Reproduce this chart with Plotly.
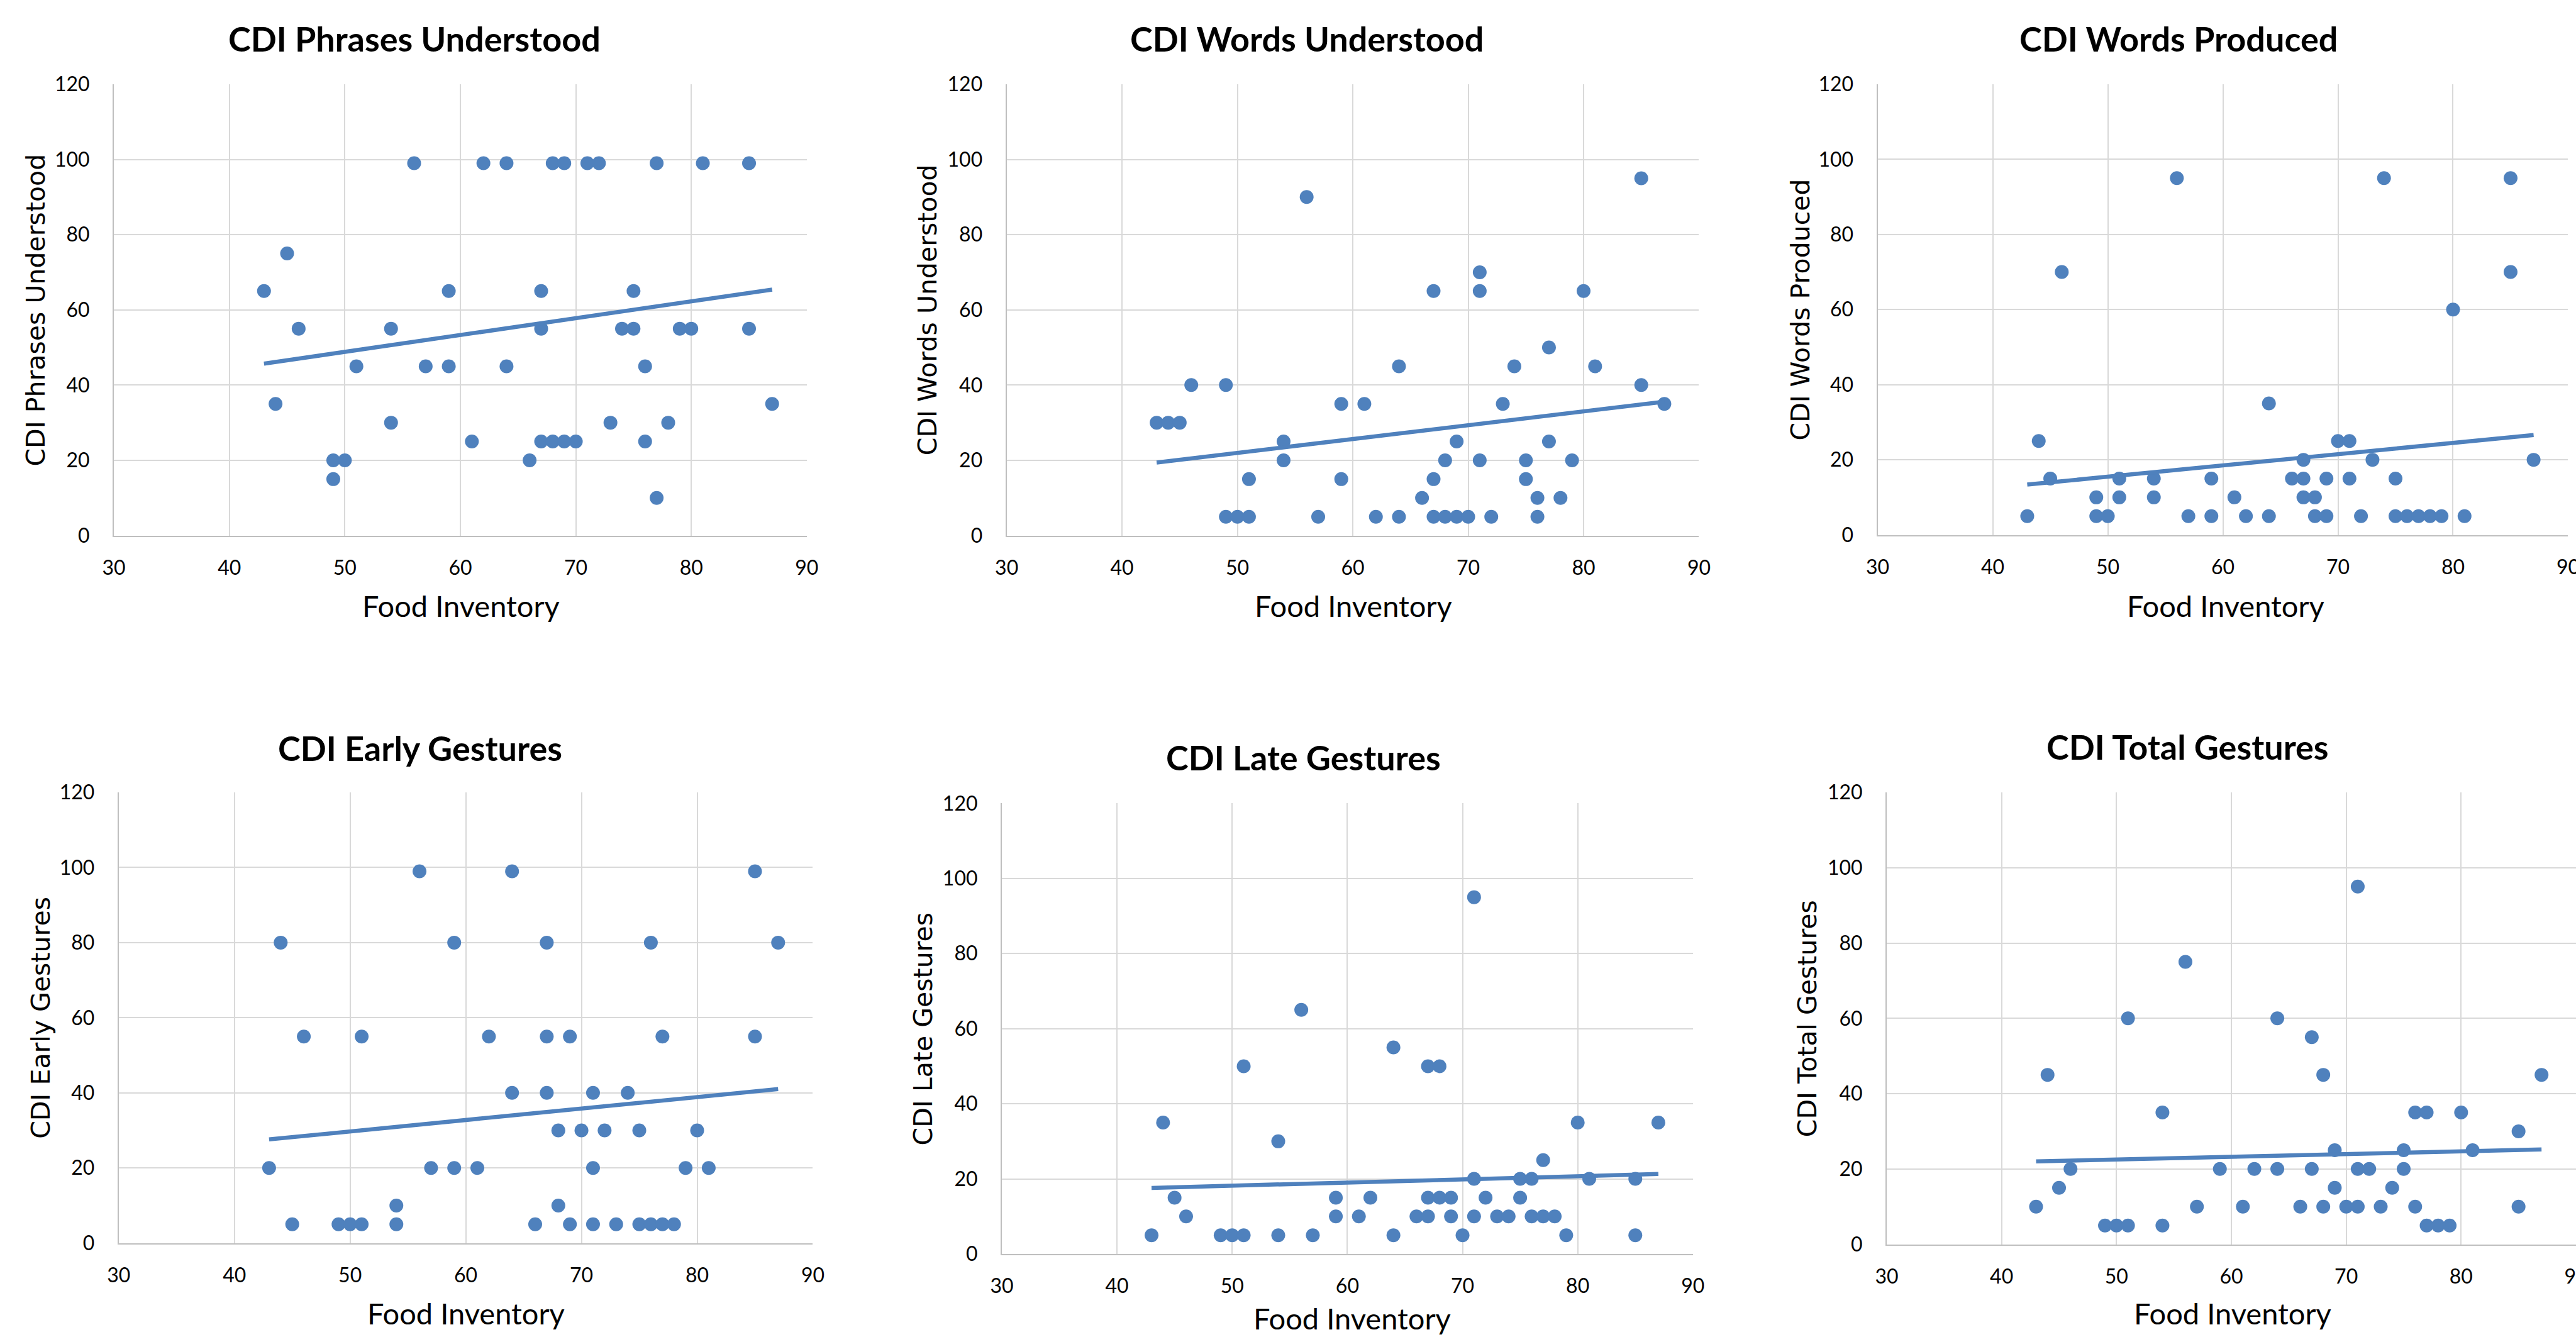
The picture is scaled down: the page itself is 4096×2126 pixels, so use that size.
import plotly.graph_objects as go

# ---------------- data ----------------
food_axis_label = "Food Inventory"
panel_titles = ["CDI Phrases Understood", "CDI Words Understood", "CDI Words Produced",
                "CDI Early Gestures", "CDI Late Gestures", "CDI Total Gestures"]
x_ticks = [30, 40, 50, 60, 70, 80, 90]
y_ticks = [0, 20, 40, 60, 80, 100, 120]

phrases_x = [56, 62, 64, 68, 69, 71, 72, 77, 81, 85, 45, 43, 59, 67, 75, 46, 54, 67, 74, 75, 79, 80, 85,
             51, 57, 59, 64, 76, 44, 87, 54, 73, 78, 61, 67, 68, 69, 70, 76, 49, 50, 66, 49, 77]
phrases_y = [99, 99, 99, 99, 99, 99, 99, 99, 99, 99, 75, 65, 65, 65, 65, 55, 55, 55, 55, 55, 55, 55, 55,
             45, 45, 45, 45, 45, 35, 35, 30, 30, 30, 25, 25, 25, 25, 25, 25, 20, 20, 20, 15, 10]

words_und_x = [56, 85, 71, 67, 71, 80, 77, 64, 74, 81, 46, 49, 85, 59, 61, 73, 87, 43, 44, 45, 54, 69, 77,
               54, 68, 71, 75, 79, 51, 59, 67, 75, 66, 76, 78,
               49, 50, 51, 57, 62, 64, 67, 68, 69, 70, 72, 76]
words_und_y = [90, 95, 70, 65, 65, 65, 50, 45, 45, 45, 40, 40, 40, 35, 35, 35, 35, 30, 30, 30, 25, 25, 25,
               20, 20, 20, 20, 20, 15, 15, 15, 15, 10, 10, 10,
               5, 5, 5, 5, 5, 5, 5, 5, 5, 5, 5, 5]

words_prod_x = [56, 74, 85, 46, 85, 80, 64, 44, 70, 71, 67, 73, 87,
                45, 51, 54, 59, 66, 67, 69, 71, 75, 49, 51, 54, 61, 67, 68,
                43, 49, 50, 57, 59, 62, 64, 68, 69, 72, 75, 76, 77, 78, 79, 81]
words_prod_y = [95, 95, 95, 70, 70, 60, 35, 25, 25, 25, 20, 20, 20,
                15, 15, 15, 15, 15, 15, 15, 15, 15, 10, 10, 10, 10, 10, 10,
                5, 5, 5, 5, 5, 5, 5, 5, 5, 5, 5, 5, 5, 5, 5, 5]

early_x = [56, 64, 85, 44, 59, 67, 76, 87, 46, 51, 62, 67, 69, 77, 85, 64, 67, 71, 74,
           68, 70, 72, 75, 80, 43, 57, 59, 61, 71, 79, 81, 54, 68,
           45, 49, 50, 51, 54, 66, 69, 71, 73, 75, 76, 77, 78]
early_y = [99, 99, 99, 80, 80, 80, 80, 80, 55, 55, 55, 55, 55, 55, 55, 40, 40, 40, 40,
           30, 30, 30, 30, 30, 20, 20, 20, 20, 20, 20, 20, 10, 10,
           5, 5, 5, 5, 5, 5, 5, 5, 5, 5, 5, 5, 5]

late_x = [71, 56, 64, 51, 67, 68, 44, 80, 87, 54, 77, 71, 75, 76, 81, 85,
          45, 59, 62, 67, 68, 69, 72, 75, 46, 59, 61, 66, 67, 69, 71, 73, 74, 76, 77, 78,
          43, 49, 50, 51, 54, 57, 64, 70, 79, 85]
late_y = [95, 65, 55, 50, 50, 50, 35, 35, 35, 30, 25, 20, 20, 20, 20, 20,
          15, 15, 15, 15, 15, 15, 15, 15, 10, 10, 10, 10, 10, 10, 10, 10, 10, 10, 10, 10,
          5, 5, 5, 5, 5, 5, 5, 5, 5, 5]

total_x = [71, 56, 51, 64, 67, 44, 68, 87, 54, 76, 77, 80, 85, 69, 75, 81,
           46, 59, 62, 64, 67, 71, 72, 75, 45, 69, 74,
           43, 57, 61, 66, 68, 70, 71, 73, 76, 85, 49, 50, 51, 54, 77, 78, 79]
total_y = [95, 75, 60, 60, 55, 45, 45, 45, 35, 35, 35, 35, 30, 25, 25, 25,
           20, 20, 20, 20, 20, 20, 20, 20, 15, 15, 15,
           10, 10, 10, 10, 10, 10, 10, 10, 10, 10, 5, 5, 5, 5, 5, 5, 5]

# linear trendline end points
trend_x = [43, 87]
phrases_trend = [45.7, 65.4]
words_und_trend = [19.4, 35.6]
words_prod_trend = [13.4, 26.6]
early_trend = [27.6, 41.0]
late_trend = [17.6, 21.3]
total_trend = [22.0, 25.2]

series = [
    (phrases_x, phrases_y, phrases_trend),
    (words_und_x, words_und_y, words_und_trend),
    (words_prod_x, words_prod_y, words_prod_trend),
    (early_x, early_y, early_trend),
    (late_x, late_y, late_trend),
    (total_x, total_y, total_trend),
]

# ---------------- layout (reference pixel geometry) ----------------
RW, RH = 4253.0, 2207.0
BLUE = "#4F81BD"

boxes = [  # x0, x1, ytop, ybottom in reference pixels
    (188, 1332, 139, 884),
    (1662, 2805, 139, 884),
    (3100, 4240, 139, 883),
    (196, 1342, 1308, 2052),
    (1654, 2795, 1326, 2070),
    (3115, 4253, 1308, 2054),
]
title_pos = [(684, 64), (2158, 64), (3597, 64), (694, 1235), (2152, 1250), (3612, 1233)]
xtitle_pos = [(761, 1000), (2235, 1000), (3675, 1000), (769, 2168), (2232, 2176), (3686, 2168)]
ytitle_x = [59, 1531, 2973, 68, 1524, 2984]

fig = go.Figure()
annotations = []
for i, ((xs, ys, tr), (x0, x1, yt, yb)) in enumerate(zip(series, boxes)):
    n = i + 1
    xa = "x" if n == 1 else f"x{n}"
    ya = "y" if n == 1 else f"y{n}"
    fig.add_trace(go.Scatter(x=xs, y=ys, mode="markers", xaxis=xa, yaxis=ya,
                             marker=dict(color=BLUE, size=22, line=dict(width=0)),
                             showlegend=False, hoverinfo="x+y"))
    fig.add_trace(go.Scatter(x=trend_x, y=tr, mode="lines", xaxis=xa, yaxis=ya,
                             line=dict(color=BLUE, width=6.5), showlegend=False))
    common = dict(showgrid=True, gridcolor="#D9D9D9", gridwidth=2, zeroline=False,
                  showline=True, linecolor="#BFBFBF", linewidth=2, ticks="", automargin=False,
                  ticklabeloverflow="allow",
                  tickfont=dict(family="Lato", size=32, color="#000000"))
    fig.layout[f"xaxis{'' if n == 1 else n}"] = dict(
        domain=[x0 / RW, min(x1 / RW, 1.0)], range=[30, 90], tickvals=x_ticks,
        anchor=ya, ticklabelstandoff=22, **common)
    fig.layout[f"yaxis{'' if n == 1 else n}"] = dict(
        domain=[1 - yb / RH, 1 - yt / RH], range=[0, 120], tickvals=y_ticks,
        anchor=xa, ticklabelstandoff=30, **common)
    tx, ty = title_pos[i]
    annotations.append(dict(text=panel_titles[i], x=tx / RW, y=1 - ty / RH, xref="paper", yref="paper",
                            xanchor="center", yanchor="middle", showarrow=False,
                            font=dict(family="Lato", size=54, color="#000000", weight="bold")))
    fx, fy = xtitle_pos[i]
    annotations.append(dict(text=food_axis_label, x=fx / RW, y=1 - fy / RH, xref="paper", yref="paper",
                            xanchor="center", yanchor="middle", showarrow=False,
                            font=dict(family="Lato", size=47, color="#000000")))
    annotations.append(dict(text=panel_titles[i], x=ytitle_x[i] / RW, y=1 - ((yt + yb) / 2) / RH,
                            xref="paper", yref="paper", textangle=-90,
                            xanchor="center", yanchor="middle", showarrow=False,
                            font=dict(family="DejaVu Sans", size=41, color="#000000")))

fig.update_layout(template="none", width=4096, height=2126, margin=dict(l=0, r=0, t=0, b=0, pad=0),
                  paper_bgcolor="white", plot_bgcolor="white", annotations=annotations,
                  showlegend=False)
fig.write_html("out.html", config={"displayModeBar": False},
               post_script="document.body.style.margin='0';")
